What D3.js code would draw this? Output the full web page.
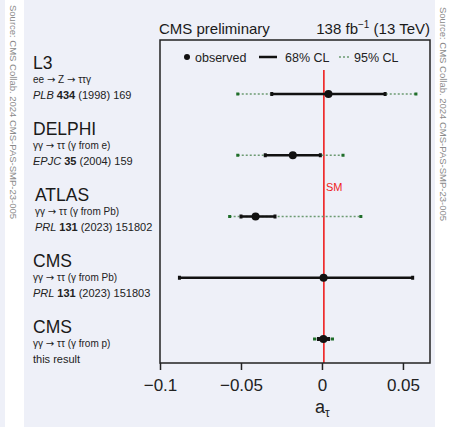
<!DOCTYPE html>
<html>
<head>
<meta charset="utf-8">
<script src="https://cdn.jsdelivr.net/npm/d3@7"></script>
<style>
  body { margin: 0; background: #ffffff; }
  svg { display: block; font-family: "Liberation Sans", Arial, sans-serif; }
</style>
</head>
<body>
<div id="chart"></div>
<script>
// Rows of the summary plot, top to bottom
const rows = ["L3", "DELPHI", "ATLAS", "CMS-Pb", "CMS-p"];
const titles = ["L3", "DELPHI", "ATLAS", "CMS", "CMS"];
const processes = ["ee \u2192 Z \u2192 \u03c4\u03c4\u03b3", "\u03b3\u03b3 \u2192 \u03c4\u03c4 (\u03b3 from e)", "\u03b3\u03b3 \u2192 \u03c4\u03c4 (\u03b3 from Pb)", "\u03b3\u03b3 \u2192 \u03c4\u03c4 (\u03b3 from Pb)", "\u03b3\u03b3 \u2192 \u03c4\u03c4 (\u03b3 from p)"];
const journals = ["PLB", "EPJC", "PRL", "PRL", ""];
const volumes = ["434", "35", "131", "131", ""];
const refs = ["(1998) 169", "(2004) 159", "(2023) 151802", "(2023) 151803", "this result"];

// a_tau values
const observed = [0.004, -0.018, -0.041, 0.001, 0.0009];
const cl68Low = [-0.031, -0.035, -0.050, -0.088, -0.0022];
const cl68High = [0.039, -0.001, -0.029, 0.056, 0.0041];
const cl95Low = [-0.052, -0.052, -0.057, null, -0.0046];
const cl95High = [0.058, 0.013, 0.024, null, 0.0065];
const smValue = 0.00118;
const xTicks = [-0.1, -0.05, 0, 0.05];

const W = 451, H = 427;
const frame = { left: 160, right: 430, top: 40, bottom: 363 };
const green = "#1f6e2a";

const svg = d3.select("#chart").append("svg")
    .attr("width", W)
    .attr("height", H);

// background panels
svg.append("rect").attr("x", 0).attr("y", 0).attr("width", 5).attr("height", H).attr("fill", "#eef0f8");
svg.append("rect").attr("x", 24).attr("y", 0).attr("width", 411).attr("height", H).attr("fill", "#eef0f8");

// source notes on both sides
const source = "Source: CMS Collab. 2024 CMS-PAS-SMP-23-005";
[[10, 5], [440, 7]].forEach(p => {
    svg.append("text")
        .attr("transform", "translate(" + p[0] + "," + p[1] + ") rotate(90)")
        .attr("textLength", 214)
        .attr("lengthAdjust", "spacingAndGlyphs")
        .style("font-size", "9px")
        .style("fill", "#8a8a8a")
        .text(source);
});

// scales
const x = d3.scaleLinear()
    .domain([-0.1, 0.0667])
    .range([frame.left, frame.right]);

const y = d3.scalePoint()
    .domain(rows)
    .range([94, 339]);

// labels on the left use their own spacing
const yLabel = d3.scalePoint()
    .domain(rows)
    .range([69, 333]);

// header
svg.append("text")
    .attr("x", frame.left - 1)
    .attr("y", 34)
    .style("font-size", "15px")
    .style("fill", "#1a1a1a")
    .text("CMS preliminary");

const lumi = svg.append("text")
    .attr("x", frame.right)
    .attr("y", 34)
    .attr("text-anchor", "end")
    .style("font-size", "15px")
    .style("fill", "#1a1a1a");
lumi.append("tspan").text("138 fb");
lumi.append("tspan").attr("dy", -6).style("font-size", "10px").text("\u22121");
lumi.append("tspan").attr("dy", 6).text(" (13 TeV)");

// SM line
svg.append("line")
    .attr("x1", x(smValue)).attr("x2", x(smValue))
    .attr("y1", 70).attr("y2", frame.bottom)
    .attr("stroke", "#ee1111")
    .attr("stroke-width", 1.5);

svg.append("text")
    .attr("x", x(smValue) + 2)
    .attr("y", 191)
    .style("font-size", "11px")
    .style("fill", "#ee2222")
    .text("SM");

// 95% CL intervals (dotted green)
const has95 = rows.map((r, i) => i).filter(i => cl95Low[i] !== null);

svg.selectAll(".cl95")
    .data(has95)
    .enter().append("line")
    .attr("x1", i => x(cl95Low[i]))
    .attr("x2", i => x(cl95High[i]))
    .attr("y1", i => y(rows[i]))
    .attr("y2", i => y(rows[i]))
    .attr("stroke", "#6c9a72")
    .attr("stroke-width", 1.5)
    .attr("stroke-dasharray", "2,2");

svg.selectAll(".cap95")
    .data(has95.flatMap(i => [[i, cl95Low[i]], [i, cl95High[i]]]))
    .enter().append("rect")
    .attr("x", d => x(d[1]) - 1.5)
    .attr("y", d => y(rows[d[0]]) - 1.5)
    .attr("width", 3)
    .attr("height", 3)
    .attr("fill", green);

// 68% CL intervals (solid black)
svg.selectAll(".cl68")
    .data(rows)
    .enter().append("line")
    .attr("x1", (d, i) => x(cl68Low[i]))
    .attr("x2", (d, i) => x(cl68High[i]))
    .attr("y1", d => y(d))
    .attr("y2", d => y(d))
    .attr("stroke", "#111")
    .attr("stroke-width", 2.5);

svg.selectAll(".cap68")
    .data(rows.flatMap((r, i) => [[r, cl68Low[i]], [r, cl68High[i]]]))
    .enter().append("rect")
    .attr("x", d => x(d[1]) - 1.5)
    .attr("y", d => y(d[0]) - 2)
    .attr("width", 3)
    .attr("height", 4)
    .attr("fill", "#111");

// observed points
svg.selectAll(".obs")
    .data(rows)
    .enter().append("circle")
    .attr("cx", (d, i) => x(observed[i]))
    .attr("cy", d => y(d))
    .attr("r", 4)
    .attr("fill", "#111");

// frame
svg.append("rect")
    .attr("x", frame.left)
    .attr("y", frame.top)
    .attr("width", frame.right - frame.left)
    .attr("height", frame.bottom - frame.top)
    .attr("fill", "none")
    .attr("stroke", "#222")
    .attr("stroke-width", 1.5);

// x axis
const xAxis = svg.append("g")
    .attr("transform", "translate(0," + frame.bottom + ")")
    .call(d3.axisBottom(x).tickValues(xTicks).tickFormat(d3.format("~g")).tickSize(7).tickSizeOuter(0).tickPadding(9));
xAxis.select(".domain").remove();
xAxis.selectAll(".tick line").attr("stroke", "#222").attr("stroke-width", 1.5);
xAxis.selectAll(".tick text")
    .style("font-size", "17px")
    .style("font-family", "'Liberation Sans', Arial, sans-serif")
    .attr("fill", "#222");

const xLabel = svg.append("text")
    .attr("x", x(0) - 7)
    .attr("y", 413)
    .style("font-size", "18px")
    .style("fill", "#222");
xLabel.append("tspan").text("a");
xLabel.append("tspan").attr("dy", 4).style("font-size", "12px").text("\u03c4");

// legend
const legend = svg.append("g").attr("transform", "translate(0,57)");
legend.append("circle").attr("cx", 187).attr("cy", 0).attr("r", 3).attr("fill", "#111");
legend.append("text").attr("x", 195).attr("y", 4.5).style("font-size", "12.5px").style("fill", "#222").text("observed");
legend.append("line").attr("x1", 259).attr("x2", 277).attr("y1", 0).attr("y2", 0)
    .attr("stroke", "#111").attr("stroke-width", 2.5);
legend.append("text").attr("x", 285).attr("y", 4.5).style("font-size", "12.5px").style("fill", "#222").text("68% CL");
legend.append("line").attr("x1", 339).attr("x2", 350).attr("y1", 0).attr("y2", 0)
    .attr("stroke", "#6c9a72").attr("stroke-width", 1.5).attr("stroke-dasharray", "2,2");
legend.append("text").attr("x", 354).attr("y", 4.5).style("font-size", "12.5px").style("fill", "#222").text("95% CL");

// left labels
const labels = svg.selectAll(".lab")
    .data(rows)
    .enter().append("g")
    .attr("transform", (d, i) => "translate(" + (i === 2 ? 35 : 33) + "," + yLabel(d) + ")");

labels.append("text")
    .style("font-size", "17.5px")
    .style("fill", "#1a1a1a")
    .text((d, i) => titles[i]);

// process line: arrows drawn with a font that has a wider arrow glyph
const procText = labels.append("text")
    .attr("y", 14)
    .style("font-size", "10px")
    .style("fill", "#222");
procText.each(function (d, i) {
    const t = d3.select(this);
    processes[i].split("\u2192").forEach((part, k) => {
        if (k > 0) t.append("tspan").style("font-family", "'DejaVu Sans', sans-serif").text("\u2192");
        t.append("tspan").text(part);
    });
});

const refText = labels.append("text")
    .attr("y", 30)
    .style("font-size", "11px")
    .style("fill", "#222");
refText.append("tspan").style("font-style", "italic").text((d, i) => journals[i] ? journals[i] + " " : "");
refText.append("tspan").style("font-weight", "bold").text((d, i) => volumes[i] ? volumes[i] + " " : "");
refText.append("tspan").text((d, i) => refs[i]);
</script>
</body>
</html>
